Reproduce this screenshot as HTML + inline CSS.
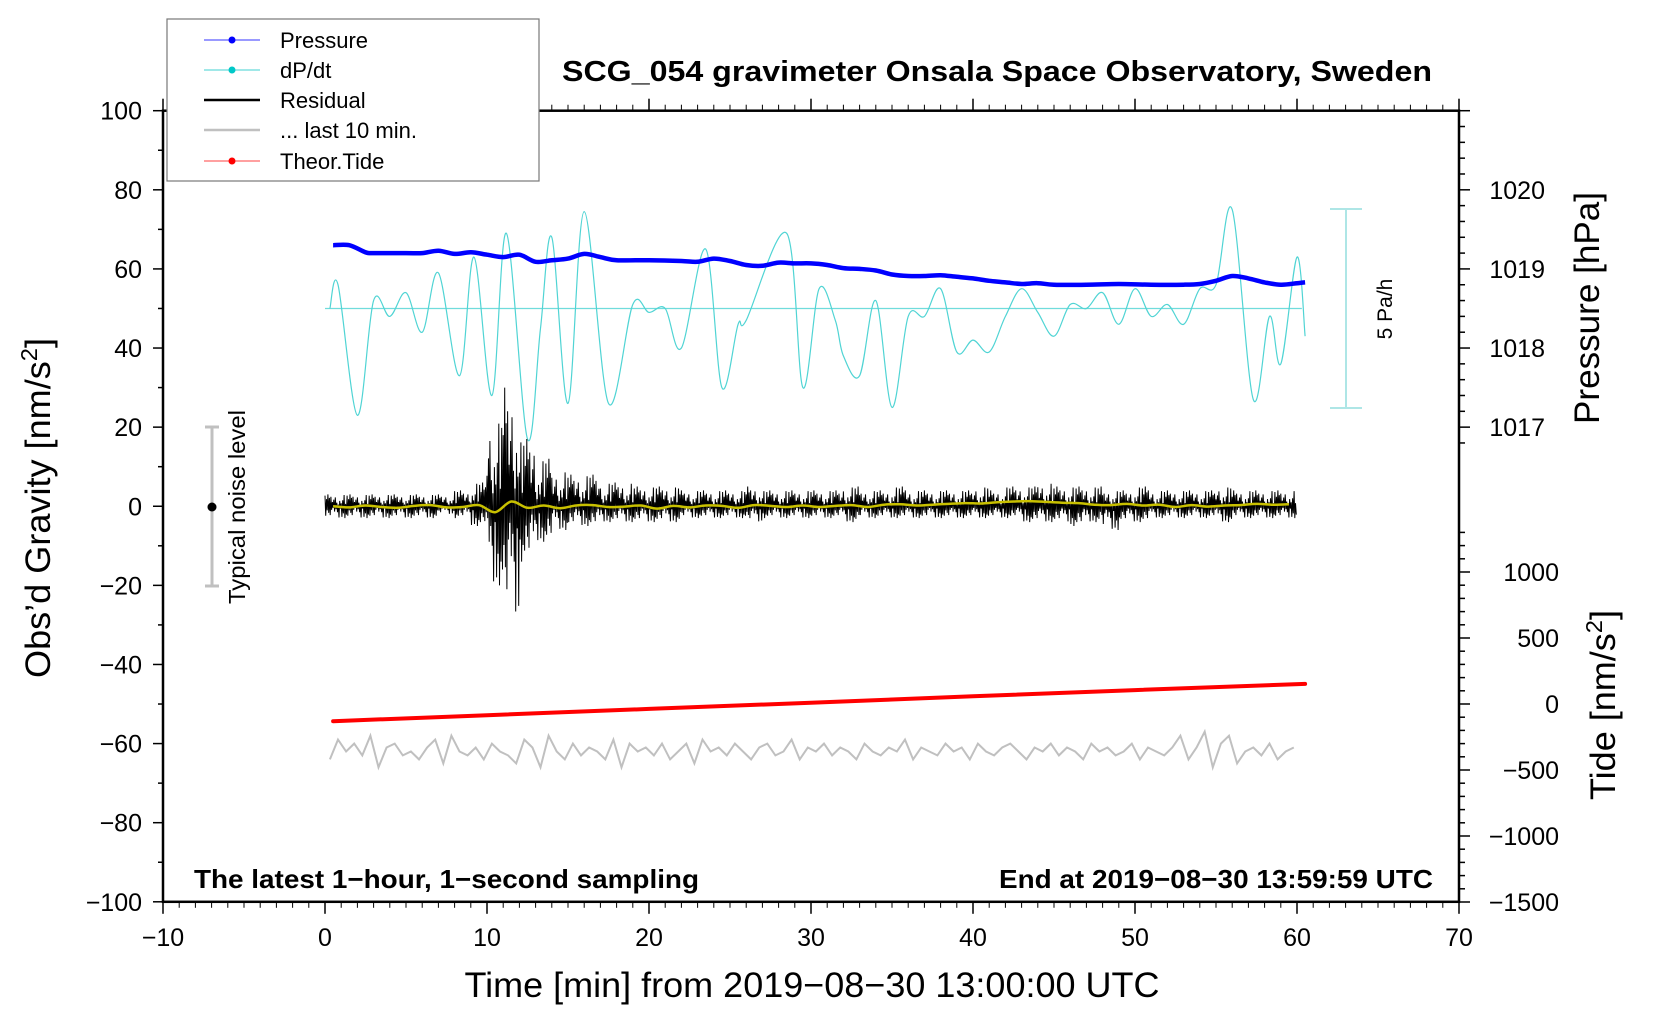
<!DOCTYPE html>
<html><head><meta charset="utf-8"><title>SCG_054 gravimeter</title>
<style>
html,body{margin:0;padding:0;background:#fff;}
svg{display:block;font-family:"Liberation Sans",Arial,sans-serif;}
</style></head>
<body>
<svg id="chart" width="1660" height="1020" viewBox="0 0 1660 1020" xmlns="http://www.w3.org/2000/svg">
<rect x="0" y="0" width="1660" height="1020" fill="#fff"/>
<g id="axes"></g>
<g id="series"></g>
<text x="997" y="81" text-anchor="middle" font-weight="bold" font-size="29" textLength="870" lengthAdjust="spacingAndGlyphs">SCG_054 gravimeter Onsala Space Observatory, Sweden</text>
<text x="194" y="888" font-weight="bold" font-size="26" textLength="505" lengthAdjust="spacingAndGlyphs">The latest 1−hour, 1−second sampling</text>
<text x="1433" y="888" text-anchor="end" font-weight="bold" font-size="26" textLength="434" lengthAdjust="spacingAndGlyphs">End at 2019−08−30 13:59:59 UTC</text>
<text x="812" y="997" text-anchor="middle" font-size="35" textLength="695" lengthAdjust="spacingAndGlyphs">Time [min] from 2019−08−30 13:00:00 UTC</text>
<text transform="translate(50,508) rotate(-90)" text-anchor="middle" font-size="35" textLength="340" lengthAdjust="spacingAndGlyphs">Obs’d Gravity [nm/s<tspan dy="-13" font-size="23">2</tspan><tspan dy="13">]</tspan></text>
<text transform="translate(1599,308) rotate(-90)" text-anchor="middle" font-size="35" textLength="232" lengthAdjust="spacingAndGlyphs">Pressure [hPa]</text>
<text transform="translate(1615,705) rotate(-90)" text-anchor="middle" font-size="35" textLength="190" lengthAdjust="spacingAndGlyphs">Tide [nm/s<tspan dy="-13" font-size="23">2</tspan><tspan dy="13">]</tspan></text>
<g>
<line x1="212" y1="427" x2="212" y2="586" stroke="#c0c0c0" stroke-width="3"/>
<line x1="205" y1="427" x2="219" y2="427" stroke="#c0c0c0" stroke-width="3"/>
<line x1="205" y1="586" x2="219" y2="586" stroke="#c0c0c0" stroke-width="3"/>
<circle cx="212" cy="507" r="4.5" fill="#000"/>
<text transform="translate(245,507) rotate(-90)" text-anchor="middle" font-size="23" textLength="194" lengthAdjust="spacingAndGlyphs">Typical noise level</text>
</g>
<g>
<line x1="1346" y1="209" x2="1346" y2="408" stroke="#aee6e6" stroke-width="2"/>
<line x1="1330" y1="209" x2="1362" y2="209" stroke="#aee6e6" stroke-width="2"/>
<line x1="1330" y1="408" x2="1362" y2="408" stroke="#aee6e6" stroke-width="2"/>
<text transform="translate(1392,309) rotate(-90)" text-anchor="middle" font-size="21">5 Pa/h</text>
</g>
<g>
<rect x="167" y="19" width="372" height="162" fill="#fff" stroke="#777" stroke-width="1.2"/>
<g><line x1="204" y1="40" x2="260" y2="40" stroke="#3333ff" stroke-width="1"/><circle cx="232" cy="40" r="3.5" fill="#0000ff"/><text x="280" y="48" font-size="22">Pressure</text></g>
<g><line x1="204" y1="70" x2="260" y2="70" stroke="#40d0d0" stroke-width="1"/><circle cx="232" cy="70" r="3.5" fill="#00c8c8"/><text x="280" y="78" font-size="22">dP/dt</text></g>
<g><line x1="204" y1="100" x2="260" y2="100" stroke="#000" stroke-width="2.5"/><text x="280" y="108" font-size="22">Residual</text></g>
<g><line x1="204" y1="130" x2="260" y2="130" stroke="#c0c0c0" stroke-width="2.5"/><text x="280" y="138" font-size="22">... last 10 min.</text></g>
<g><line x1="204" y1="161" x2="260" y2="161" stroke="#ff4040" stroke-width="1"/><circle cx="232" cy="161" r="3.5" fill="#ff0000"/><text x="280" y="169" font-size="22">Theor.Tide</text></g>
</g>
</svg>
<script>
// ---- data ----
const pressTimes = [0.5,1.5,2.5,3,5,6,7,8,9,10,11,12,13,14,15,16,17,18,20,22,23,24,25,26,27,28,29,30,31,32,33,34,35,36,37,38,39,40,41,42,43,44,45,47,49,51,53,54,55,56,57,58,59,60,60.5];
const pressVals = [1019.30,1019.30,1019.21,1019.20,1019.20,1019.20,1019.23,1019.19,1019.21,1019.18,1019.15,1019.18,1019.09,1019.11,1019.13,1019.19,1019.15,1019.11,1019.11,1019.10,1019.09,1019.13,1019.10,1019.05,1019.04,1019.08,1019.07,1019.07,1019.05,1019.01,1019.00,1018.98,1018.93,1018.91,1018.91,1018.92,1018.90,1018.88,1018.85,1018.83,1018.81,1018.82,1018.80,1018.80,1018.81,1018.80,1018.80,1018.81,1018.85,1018.91,1018.88,1018.83,1018.80,1018.82,1018.83];
const dpdtTimes = [0.3,0.8,2,3,4,5,6,7,8.3,9.2,10.3,11.2,12.5,13.3,14,15,16,17.5,19,20,21,22,23.5,24.5,25.5,26,28.5,29.5,30.5,31.5,32,33,34,35,36,37,38,39,40,41,42,43,44,45,46,47,48,49,50,51,52,53,54,55,56,57.3,58.3,59,60,60.5];
const dpdtVals = [0,0.6,-2.7,0.2,-0.2,0.4,-0.6,0.9,-1.7,1.3,-2.2,1.9,-3.3,-0.5,1.8,-2.4,2.45,-2.4,0.1,-0.1,0,-1.0,1.5,-2.0,-0.4,-0.3,1.9,-2.0,0.5,-0.3,-1.2,-1.7,0.2,-2.5,-0.2,-0.2,0.5,-1.1,-0.8,-1.1,-0.2,0.5,-0.1,-0.7,0.1,0,0.4,-0.4,0.5,-0.2,0.1,-0.4,0.5,0.6,2.5,-2.3,-0.2,-1.4,1.3,-0.7];
const dpdtBaseline = 50;
const resMinutes = [0,1,2,3,4,5,6,7,8,9,10,11,12,13,14,15,16,17,18,19,20,21,22,23,24,25,26,27,28,29,30,31,32,33,34,35,36,37,38,39,40,41,42,43,44,45,46,47,48,49,50,51,52,53,54,55,56,57,58,59];
const resUpper = [3,3,3,3,3,3,3,3,4,6,22,30,17,12,9,8,8,6,6,5,5,5,4,4,4,4,5,4,4,4,4,4,5,4,4,5,4,4,4,4,5,4,5,5,6,5,5,5,4,4,5,4,4,4,4,5,4,4,4,4];
const resLower = [-3,-3,-3,-3,-3,-3,-3,-2,-3,-5,-20,-28,-14,-9,-6,-5,-5,-4,-4,-4,-4,-4,-3,-3,-3,-3,-4,-3,-3,-3,-3,-3,-4,-3,-3,-3,-3,-3,-3,-3,-3,-3,-3,-4,-4,-4,-5,-4,-6,-4,-4,-3,-3,-3,-3,-4,-3,-3,-3,-3];
const smoothVals = [0,-0.3,0.2,-0.2,-0.4,0.1,0.3,-0.3,-0.2,0.3,-1.5,1.2,-0.4,0.2,-0.5,0.2,0.3,-0.2,-0.1,0.2,-0.6,0.1,-0.3,0.2,0.1,-0.4,0.3,0.1,-0.2,0.2,-0.2,0.1,0.3,-0.2,0.4,0.5,0.2,0.4,0.6,0.8,0.7,1.0,1.2,1.3,1.1,0.9,0.8,0.4,0.3,0.6,0.2,0.4,-0.2,0.3,-0.1,0.2,0.3,0.6,0.4,0.5];
const lastTenStart = 0.3, lastTenStep = 0.5;
const lastTenVals = [-64,-59,-62,-60,-63,-58,-66,-61,-60,-63,-62,-64,-61,-59,-65,-58,-62,-63,-61,-64,-60,-62,-63,-65,-59,-61,-66,-58,-62,-64,-60,-63,-61,-62,-64,-59,-66,-60,-62,-61,-63,-60,-64,-62,-60,-65,-59,-62,-61,-63,-60,-62,-64,-61,-60,-63,-62,-59,-64,-61,-62,-60,-63,-61,-62,-64,-60,-62,-63,-61,-62,-59,-64,-61,-62,-63,-60,-62,-61,-64,-60,-62,-63,-61,-60,-62,-64,-61,-62,-60,-63,-61,-62,-64,-60,-62,-61,-63,-62,-60,-64,-61,-62,-63,-61,-58,-64,-61,-57,-66,-60,-58,-65,-62,-61,-63,-60,-64,-62,-61];
const tideTimes = [0.5,10,20,30,40,50,60.5];
const tideVals = [-130,-85,-37,10,58,105,152];
const xTicks = [-10,0,10,20,30,40,50,60,70];
const yTicks = [100,80,60,40,20,0,-20,-40,-60,-80,-100];
const pressTicks = [1017,1018,1019,1020];
const tideTicks = [1000,500,0,-500,-1000,-1500];

// ---- scales ----
const X = t => 163 + (t + 10) * 16.2;
const Y = v => 110.7 + (100 - v) * 3.9555;
const YP = p => Y(20 + (p - 1017) * 20);
const YT = v => 704 - v * 0.132;
const YD = d => Y(dpdtBaseline + d * 10);
const NS = 'http://www.w3.org/2000/svg';
const axes = document.getElementById('axes');
const series = document.getElementById('series');
function mk(tag, parent, attrs) {
  const e = document.createElementNS(NS, tag);
  for (const k in attrs) e.setAttribute(k, attrs[k]);
  parent.appendChild(e);
  return e;
}
function line(parent, x1, y1, x2, y2, w) {
  const e = mk('line', parent, {x1: x1, y1: y1, x2: x2, y2: y2, stroke: '#000', 'stroke-width': w});
  
  
  return e;
}
function label(parent, x, y, txt, anchor, name) {
  const e = mk('text', parent, {x: x, y: y, 'text-anchor': anchor, 'font-size': 25});
  e.textContent = txt;
  
  
  return e;
}
function smoothPath(pts) {
  let d = 'M' + pts[0][0].toFixed(1) + ',' + pts[0][1].toFixed(1);
  for (let i = 0; i < pts.length - 1; i++) {
    const p0 = pts[i - 1] || pts[i], p1 = pts[i], p2 = pts[i + 1], p3 = pts[i + 2] || p2;
    const c1 = [p1[0] + (p2[0] - p0[0]) / 6, p1[1] + (p2[1] - p0[1]) / 6];
    const c2 = [p2[0] - (p3[0] - p1[0]) / 6, p2[1] - (p3[1] - p1[1]) / 6];
    d += 'C' + c1[0].toFixed(1) + ',' + c1[1].toFixed(1) + ' ' + c2[0].toFixed(1) + ',' + c2[1].toFixed(1) + ' ' + p2[0].toFixed(1) + ',' + p2[1].toFixed(1);
  }
  return d;
}

// ---- frame ----
const frame = mk('rect', axes, {x: X(-10), y: Y(100), width: X(70) - X(-10), height: Y(-100) - Y(100), fill: 'none', stroke: '#000', 'stroke-width': 2.5});


for (let t = -10; t <= 70; t++) {
  const major = t % 10 === 0;
  line(axes, X(t), Y(-100), X(t), Y(-100) + (major ? 12 : 6), major ? 1.5 : 1);
  line(axes, X(t), Y(100), X(t), Y(100) - (major ? 12 : 6), major ? 1.5 : 1);
}
xTicks.forEach(t => label(axes, X(t), 946, String(t).replace('-', '−'), 'middle', 'x-tick-label'));
for (let v = -100; v <= 100; v += 10) {
  const major = v % 20 === 0;
  line(axes, X(-10), Y(v), X(-10) - (major ? 10 : 5), Y(v), 1.5);
}
yTicks.forEach(v => label(axes, 142, Y(v) + 9, String(v).replace('-', '−'), 'end', 'y-tick-label'));
for (let i = 0; i <= 22; i++) {
  const p = 1016.8 + i * 0.2;
  const y = YP(p);
  if (y < Y(100) || y > Y(5)) continue;
  const major = Math.abs(p - Math.round(p)) < 0.01;
  line(axes, X(70), y, X(70) + (major ? 11 : 6), y, 1.5);
}
pressTicks.forEach(p => label(axes, 1545, YP(p) + 9, String(p), 'end', 'pressure-tick-label'));
for (let v = -1500; v <= 1300; v += 100) {
  const major = v % 500 === 0;
  line(axes, X(70), YT(v), X(70) + (major ? 11 : 6), YT(v), 1.5);
}
tideTicks.forEach(v => label(axes, 1559, YT(v) + 9, String(v).replace('-', '−'), 'end', 'tide-tick-label'));

// ---- dP/dt ----
const base = mk('line', series, {x1: X(0), y1: YD(0), x2: X(60.3), y2: YD(0), stroke: '#70dcdc', 'stroke-width': 1.2});


const dp = mk('path', series, {d: smoothPath(dpdtTimes.map((t, i) => [X(t), YD(dpdtVals[i])])), fill: 'none', stroke: '#50d4d4', 'stroke-width': 1.2});



// ---- pressure ----
const pr = mk('path', series, {d: smoothPath(pressTimes.map((t, i) => [X(t), YP(pressVals[i])])), fill: 'none', stroke: '#0000ff', 'stroke-width': 4.5, 'stroke-linejoin': 'round'});



// ---- residual ----
const pat = [0.9,0.3,0.6,0.15,1,0.45,0.7,0.25,0.8,0.5,0.35,0.95,0.55,0.2,0.75];
const perMin = 22;
let rpts = [];
for (let m = 0; m < resMinutes.length; m++) {
  for (let s = 0; s < perMin; s++) {
    const t = resMinutes[m] + s / perMin;
    const k = m * perMin + s;
    const v = (k % 2 === 0) ? resUpper[m] * pat[k % pat.length] : resLower[m] * pat[(k + 7) % pat.length];
    rpts.push(X(t).toFixed(1) + ',' + Y(v).toFixed(1));
  }
}
const res = mk('polyline', series, {points: rpts.join(' '), fill: 'none', stroke: '#000', 'stroke-width': 1});


const sm = mk('path', series, {d: smoothPath(resMinutes.map((t, i) => [X(t + 0.5), Y(smoothVals[i])])), fill: 'none', stroke: '#c8c000', 'stroke-width': 2.5});



// ---- tide ----
const td = mk('polyline', series, {points: tideTimes.map((t, i) => X(t).toFixed(1) + ',' + YT(tideVals[i]).toFixed(1)).join(' '), fill: 'none', stroke: '#ff0000', 'stroke-width': 4, 'stroke-linecap': 'round'});



// ---- last 10 min ----
const lt = mk('polyline', series, {points: lastTenVals.map((v, i) => X(lastTenStart + i * lastTenStep).toFixed(1) + ',' + Y(v).toFixed(1)).join(' '), fill: 'none', stroke: '#c0c0c0', 'stroke-width': 2});


</script>
</body></html>
